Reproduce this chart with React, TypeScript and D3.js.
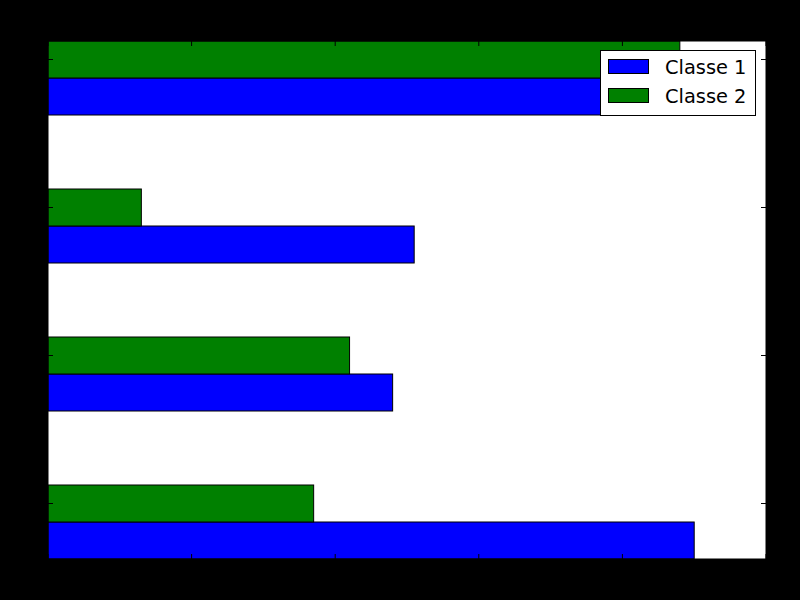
import React from "react";
import * as d3 from "d3";

const categories = ["A", "B", "C", "D"];
const classe1 = [4.5, 2.4, 2.55, 4.6];
const classe2 = [1.85, 2.1, 0.65, 4.4];
const seriesNames = ["Classe 1", "Classe 2"];
const seriesColors = ["#0000ff", "#008000"];
const xTicks = [0, 1, 2, 3, 4, 5];

const W = 800, H = 600;
const L = 48, R = 766, T = 41, B = 559;
const barH = 0.25;

export default function App() {
  const x = d3.scaleLinear().domain([0, 5]).range([L, R]);
  const y = d3.scaleLinear().domain([0, 3.5]).range([B, T]);
  const yTicks = categories.map((_, i) => i + 0.375);
  const series = [classe1, classe2];
  return (
    <svg width={W} height={H} style={{ position: "fixed", left: 0, top: 0 }} fontFamily="DejaVu Sans">
      <defs>
        <clipPath id="clip">
          <rect x={L} y={T} width={R - L} height={B - T} />
        </clipPath>
      </defs>
      <rect x={0} y={0} width={W} height={H} fill="#000" />
      <rect x={L} y={T} width={R - L} height={B - T} fill="#fff" />
      <g clipPath="url(#clip)">
        {series.map((vals, s) =>
          vals.map((v, i) => {
            const y0 = i + s * barH;
            return (
              <rect
                key={`${s}-${i}`}
                x={x(0)}
                y={y(y0 + barH)}
                width={x(v) - x(0)}
                height={y(y0) - y(y0 + barH)}
                fill={seriesColors[s]}
                stroke="#000"
                strokeWidth={1}
              />
            );
          })
        )}
      </g>
      {xTicks.map((t) => (
        <g key={`xt${t}`} stroke="#000" strokeWidth={1}>
          <line x1={x(t)} x2={x(t)} y1={B} y2={B - 5} />
          <line x1={x(t)} x2={x(t)} y1={T} y2={T + 5} />
        </g>
      ))}
      {yTicks.map((t, i) => (
        <g key={`yt${i}`} stroke="#000" strokeWidth={1}>
          <line x1={L} x2={L + 5} y1={y(t)} y2={y(t)} />
          <line x1={R} x2={R - 5} y1={y(t)} y2={y(t)} />
        </g>
      ))}
      <rect x={L} y={T} width={R - L} height={B - T} fill="none" stroke="#000" strokeWidth={1} />
      <g>
        <rect x={600.5} y={50.5} width={155} height={65} fill="#fff" stroke="#000" strokeWidth={1} />
        {seriesNames.map((n, i) => (
          <g key={n}>
            <rect x={608.5} y={59.5 + i * 29} width={40} height={14} fill={seriesColors[i]} stroke="#000" strokeWidth={1} />
            <text x={665} y={73.5 + i * 29} fontSize={19.4} fill="#000">{n}</text>
          </g>
        ))}
      </g>
    </svg>
  );
}
